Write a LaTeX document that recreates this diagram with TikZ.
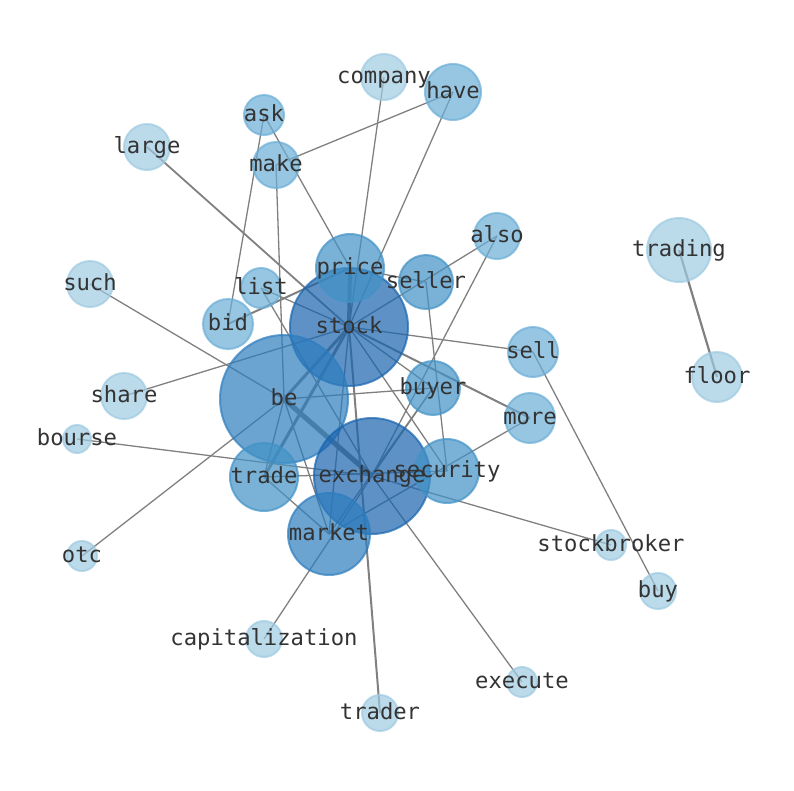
\documentclass[tikz,border=0pt]{standalone}
\usepackage{fontspec}
\setmonofont{DejaVu Sans Mono}
\usepackage{xcolor}
\usepackage{tikz}
\usetikzlibrary{backgrounds}

\definecolor{blA}{RGB}{158,202,225}
\definecolor{blB}{RGB}{107,174,214}
\definecolor{blC}{RGB}{66,146,198}
\definecolor{blD}{RGB}{45,125,190}
\definecolor{blE}{RGB}{25,100,175}

\begin{document}
\begin{tikzpicture}[
  x=1pt, y=-1pt,
  word/.style={circle, inner sep=0pt, line width=2pt, fill opacity=0.7, draw opacity=0.7},
  rare/.style={word, fill=blA, draw=blA},
  few/.style={word, fill=blB, draw=blB},
  some/.style={word, fill=blC, draw=blC},
  many/.style={word, fill=blD, draw=blD},
  hub/.style={word, fill=blE, draw=blE},
  lbl/.style={font=\ttfamily\fontsize{22.2}{26}\selectfont, text=black!80, inner sep=0pt, text height=16pt, text depth=4pt},
  link/.style={draw=black!50, line width=1.3pt}
]
\useasboundingbox (0,0) rectangle (794,790);
% word nodes
\node[hub, minimum size=118] (stock) at (349,327) {};
\node[many, minimum size=128] (be) at (284,399) {};
\node[hub, minimum size=116] (exchange) at (372,476) {};
\node[many, minimum size=82] (market) at (329,534) {};
\node[some, minimum size=68] (trade) at (264,477) {};
\node[some, minimum size=68] (price) at (350,268) {};
\node[some, minimum size=54] (seller) at (426,282) {};
\node[some, minimum size=54] (buyer) at (433,388) {};
\node[some, minimum size=64] (security) at (447,471) {};
\node[few, minimum size=50] (more) at (530,418) {};
\node[few, minimum size=50] (sell) at (533,352) {};
\node[few, minimum size=46] (also) at (497,236) {};
\node[few, minimum size=50] (bid) at (228,324) {};
\node[few, minimum size=40] (list) at (261,288) {};
\node[few, minimum size=46] (make) at (276,165) {};
\node[few, minimum size=40] (ask) at (264,115) {};
\node[few, minimum size=56] (have) at (453,92) {};
\node[rare, minimum size=46] (company) at (384,77) {};
\node[rare, minimum size=46] (large) at (147,147) {};
\node[rare, minimum size=46] (such) at (90,284) {};
\node[rare, minimum size=46] (share) at (124,396) {};
\node[rare, minimum size=28] (bourse) at (77,439) {};
\node[rare, minimum size=30] (otc) at (82,556) {};
\node[rare, minimum size=36] (capitalization) at (264,639) {};
\node[rare, minimum size=36] (trader) at (380,713) {};
\node[rare, minimum size=30] (execute) at (522,682) {};
\node[rare, minimum size=30] (stockbroker) at (611,545) {};
\node[rare, minimum size=36] (buy) at (658,591) {};
\node[rare, minimum size=64] (trading) at (679,250) {};
\node[rare, minimum size=50] (floor) at (717,377) {};
% labels on top
\foreach \w in {stock,be,exchange,market,trade,price,seller,buyer,security,more,sell,also,bid,list,make,ask,have,company,large,such,share,bourse,otc,capitalization,trader,execute,stockbroker,buy,trading,floor}
  \node[lbl] (\w-txt) at (\w) {\w};
% links behind the words
\begin{scope}[on background layer]
\draw[link, line width=5pt] (be.center) -- (exchange.center);
\draw[link, line width=4pt] (stock.center) -- (price.center);
\draw[link, line width=3pt] (be.center) -- (stock.center);
\draw[link, line width=3pt] (trade.center) -- (stock.center);
\draw[link, line width=2.2pt] (trading.center) -- (floor.center);
\draw[link, line width=2pt] (stock.center) -- (more.center);
\draw[link, line width=2pt] (bid.center) -- (price.center);
\draw[link, line width=2pt] (trader.center) -- (stock.center);
\draw[link, line width=1.8pt] (large.center) -- (stock.center);
\draw[link] (such.center) -- (be.center);
\draw[link] (share.center) -- (stock.center);
\draw[link] (bourse.center) -- (exchange.center);
\draw[link] (otc.center) -- (be.center);
\draw[link] (ask.center) -- (bid.center);
\draw[link] (ask.center) -- (price.center);
\draw[link] (make.center) -- (be.center);
\draw[link] (make.center) -- (have.center);
\draw[link] (have.center) -- (stock.center);
\draw[link] (company.center) -- (stock.center);
\draw[link] (also.center) -- (stock.center);
\draw[link] (also.center) -- (exchange.center);
\draw[link] (price.center) -- (seller.center);
\draw[link] (seller.center) -- (security.center);
\draw[link] (sell.center) -- (stock.center);
\draw[link] (sell.center) -- (buy.center);
\draw[link] (buyer.center) -- (be.center);
\draw[link] (stock.center) -- (buyer.center);
\draw[link] (stock.center) -- (security.center);
\draw[link] (stock.center) -- (market.center);
\draw[link] (market.center) -- (more.center);
\draw[link] (market.center) -- (buyer.center);
\draw[link] (exchange.center) -- (buyer.center);
\draw[link] (exchange.center) -- (execute.center);
\draw[link] (exchange.center) -- (stockbroker.center);
\draw[link] (capitalization.center) -- (exchange.center);
\draw[link] (trade.center) -- (security.center);
\draw[link] (trade.center) -- (market.center);
\draw[link] (trade.center) -- (be.center);
\draw[link] (be.center) -- (market.center);
\draw[link] (list.center) -- (exchange.center);
\draw[link] (list.center) -- (stock.center);
\end{scope}
\end{tikzpicture}
\end{document}
